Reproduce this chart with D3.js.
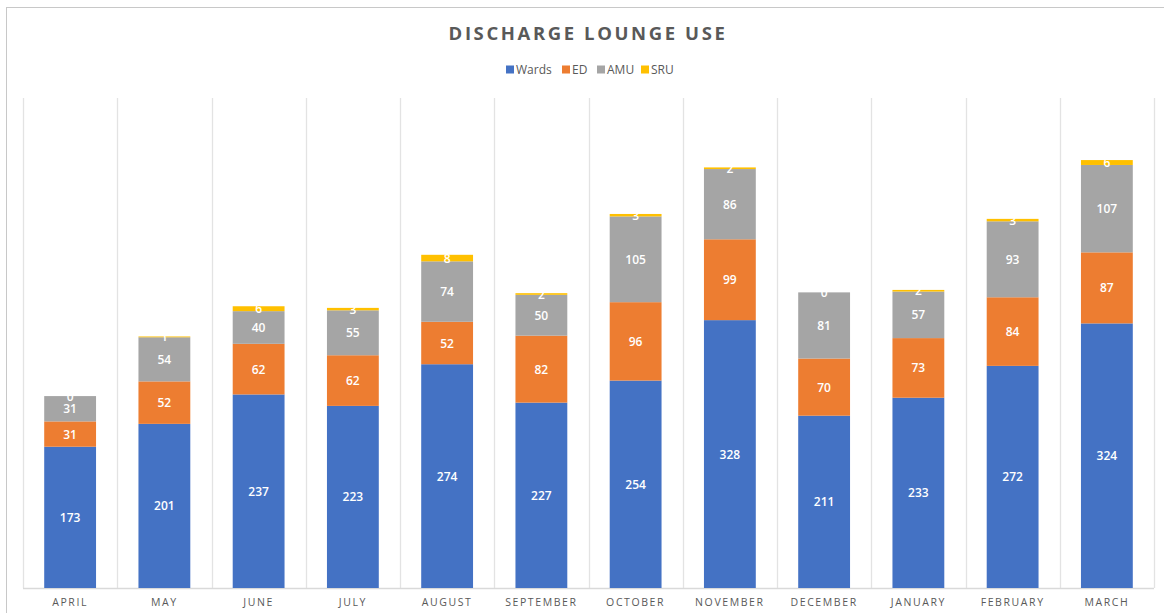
<!DOCTYPE html>
<html>
<head>
<meta charset="utf-8">
<script src="https://cdn.jsdelivr.net/npm/d3@7"></script>
<style>
  html, body { margin: 0; padding: 0; background: #fff; }
  body { width: 1164px; height: 613px; overflow: hidden; font-family: "Open Sans", "Liberation Sans", sans-serif; }
</style>
</head>
<body>
<div id="chart"></div>
<script>
const months = ['APRIL', 'MAY', 'JUNE', 'JULY', 'AUGUST', 'SEPTEMBER', 'OCTOBER', 'NOVEMBER', 'DECEMBER', 'JANUARY', 'FEBRUARY', 'MARCH'];
const series = ['Wards', 'ED', 'AMU', 'SRU'];
const wards = [173, 201, 237, 223, 274, 227, 254, 328, 211, 233, 272, 324];
const ed    = [31, 52, 62, 62, 52, 82, 96, 99, 70, 73, 84, 87];
const amu   = [31, 54, 40, 55, 74, 50, 105, 86, 81, 57, 93, 107];
const sru   = [0, 1, 6, 3, 8, 2, 3, 2, 0, 2, 3, 6];
const colors = ['#4472C4', '#ED7D31', '#A5A5A5', '#FFC000'];

const W = 1164, H = 613, m = { t: 98, r: 10, b: 25, l: 23 };
const table = months.map((mo, i) => ({ month: mo, Wards: wards[i], ED: ed[i], AMU: amu[i], SRU: sru[i] }));
const stacked = d3.stack().keys(series)(table);

const x = d3.scaleBand().domain(months).range([m.l, W - m.r - 0]).paddingInner(0).paddingOuter(0);
const inner = 0.45;
const y = d3.scaleLinear().domain([0, 600]).range([H - m.b, m.t]);
const color = d3.scaleOrdinal().domain(series).range(colors);

const svg = d3.select('#chart').append('svg').attr('width', W).attr('height', H);

// chart border
svg.append('rect').attr('x', 6.5).attr('y', 7.5).attr('width', W + 10).attr('height', H + 10)
  .attr('fill', 'none').attr('stroke', '#c8c8c8').attr('stroke-width', 1);

// vertical category gridlines
const bounds = months.map(d => x(d)).concat([x.range()[1]]);
svg.append('g').selectAll('line').data(bounds).join('line')
  .attr('x1', d => Math.round(d) + 0.5).attr('x2', d => Math.round(d) + 0.5)
  .attr('y1', m.t).attr('y2', y(0))
  .attr('stroke', '#e3e3e3').attr('stroke-width', 1.3);

// baseline
svg.append('line').attr('x1', m.l).attr('x2', x.range()[1]).attr('y1', y(0) + 0.5).attr('y2', y(0) + 0.5)
  .attr('stroke', '#d9d9d9').attr('stroke-width', 1.3);

const bw = x.bandwidth() * (1 - inner);
const off = (x.bandwidth() - bw) / 2;

const layer = svg.append('g').selectAll('g').data(stacked).join('g')
  .attr('fill', d => color(d.key));
layer.selectAll('rect').data(d => d).join('rect')
  .attr('x', d => x(d.data.month) + off)
  .attr('width', bw)
  .attr('y', d => y(d[1]))
  .attr('height', d => y(d[0]) - y(d[1]));

// data labels
const lbl = svg.append('g').attr('font-size', 12).attr('font-weight', 600).attr('fill', '#fff').attr('text-anchor', 'middle');
stacked.forEach(s => {
  lbl.selectAll(null).data(s).join('text')
    .attr('x', d => x(d.data.month) + x.bandwidth() / 2)
    .attr('y', d => (y(d[0]) + y(d[1])) / 2 + 4.5)
    .text(d => d.data[s.key]);
});

// x axis labels
svg.append('g').selectAll('text').data(months).join('text')
  .attr('x', d => x(d) + x.bandwidth() / 2).attr('y', 606)
  .attr('text-anchor', 'middle').attr('font-size', 10.5).attr('letter-spacing', 1.6)
  .attr('fill', '#595959').text(d => d);

// title
svg.append('text').attr('x', 588).attr('y', 40).attr('text-anchor', 'middle')
  .attr('font-size', 18.5).attr('font-weight', 700).attr('letter-spacing', 2.6)
  .attr('fill', '#595959').text('DISCHARGE LOUNGE USE');

// legend
const legX = [506, 562, 597, 641];
const leg = svg.append('g').selectAll('g').data(series).join('g')
  .attr('transform', (d, i) => `translate(${legX[i]},64)`);
leg.append('rect').attr('width', 8).attr('height', 8).attr('y', 1.5).attr('fill', d => color(d));
leg.append('text').attr('x', 10).attr('y', 9.5).attr('font-size', 12).attr('fill', '#595959').text(d => d);
</script>
</body>
</html>
